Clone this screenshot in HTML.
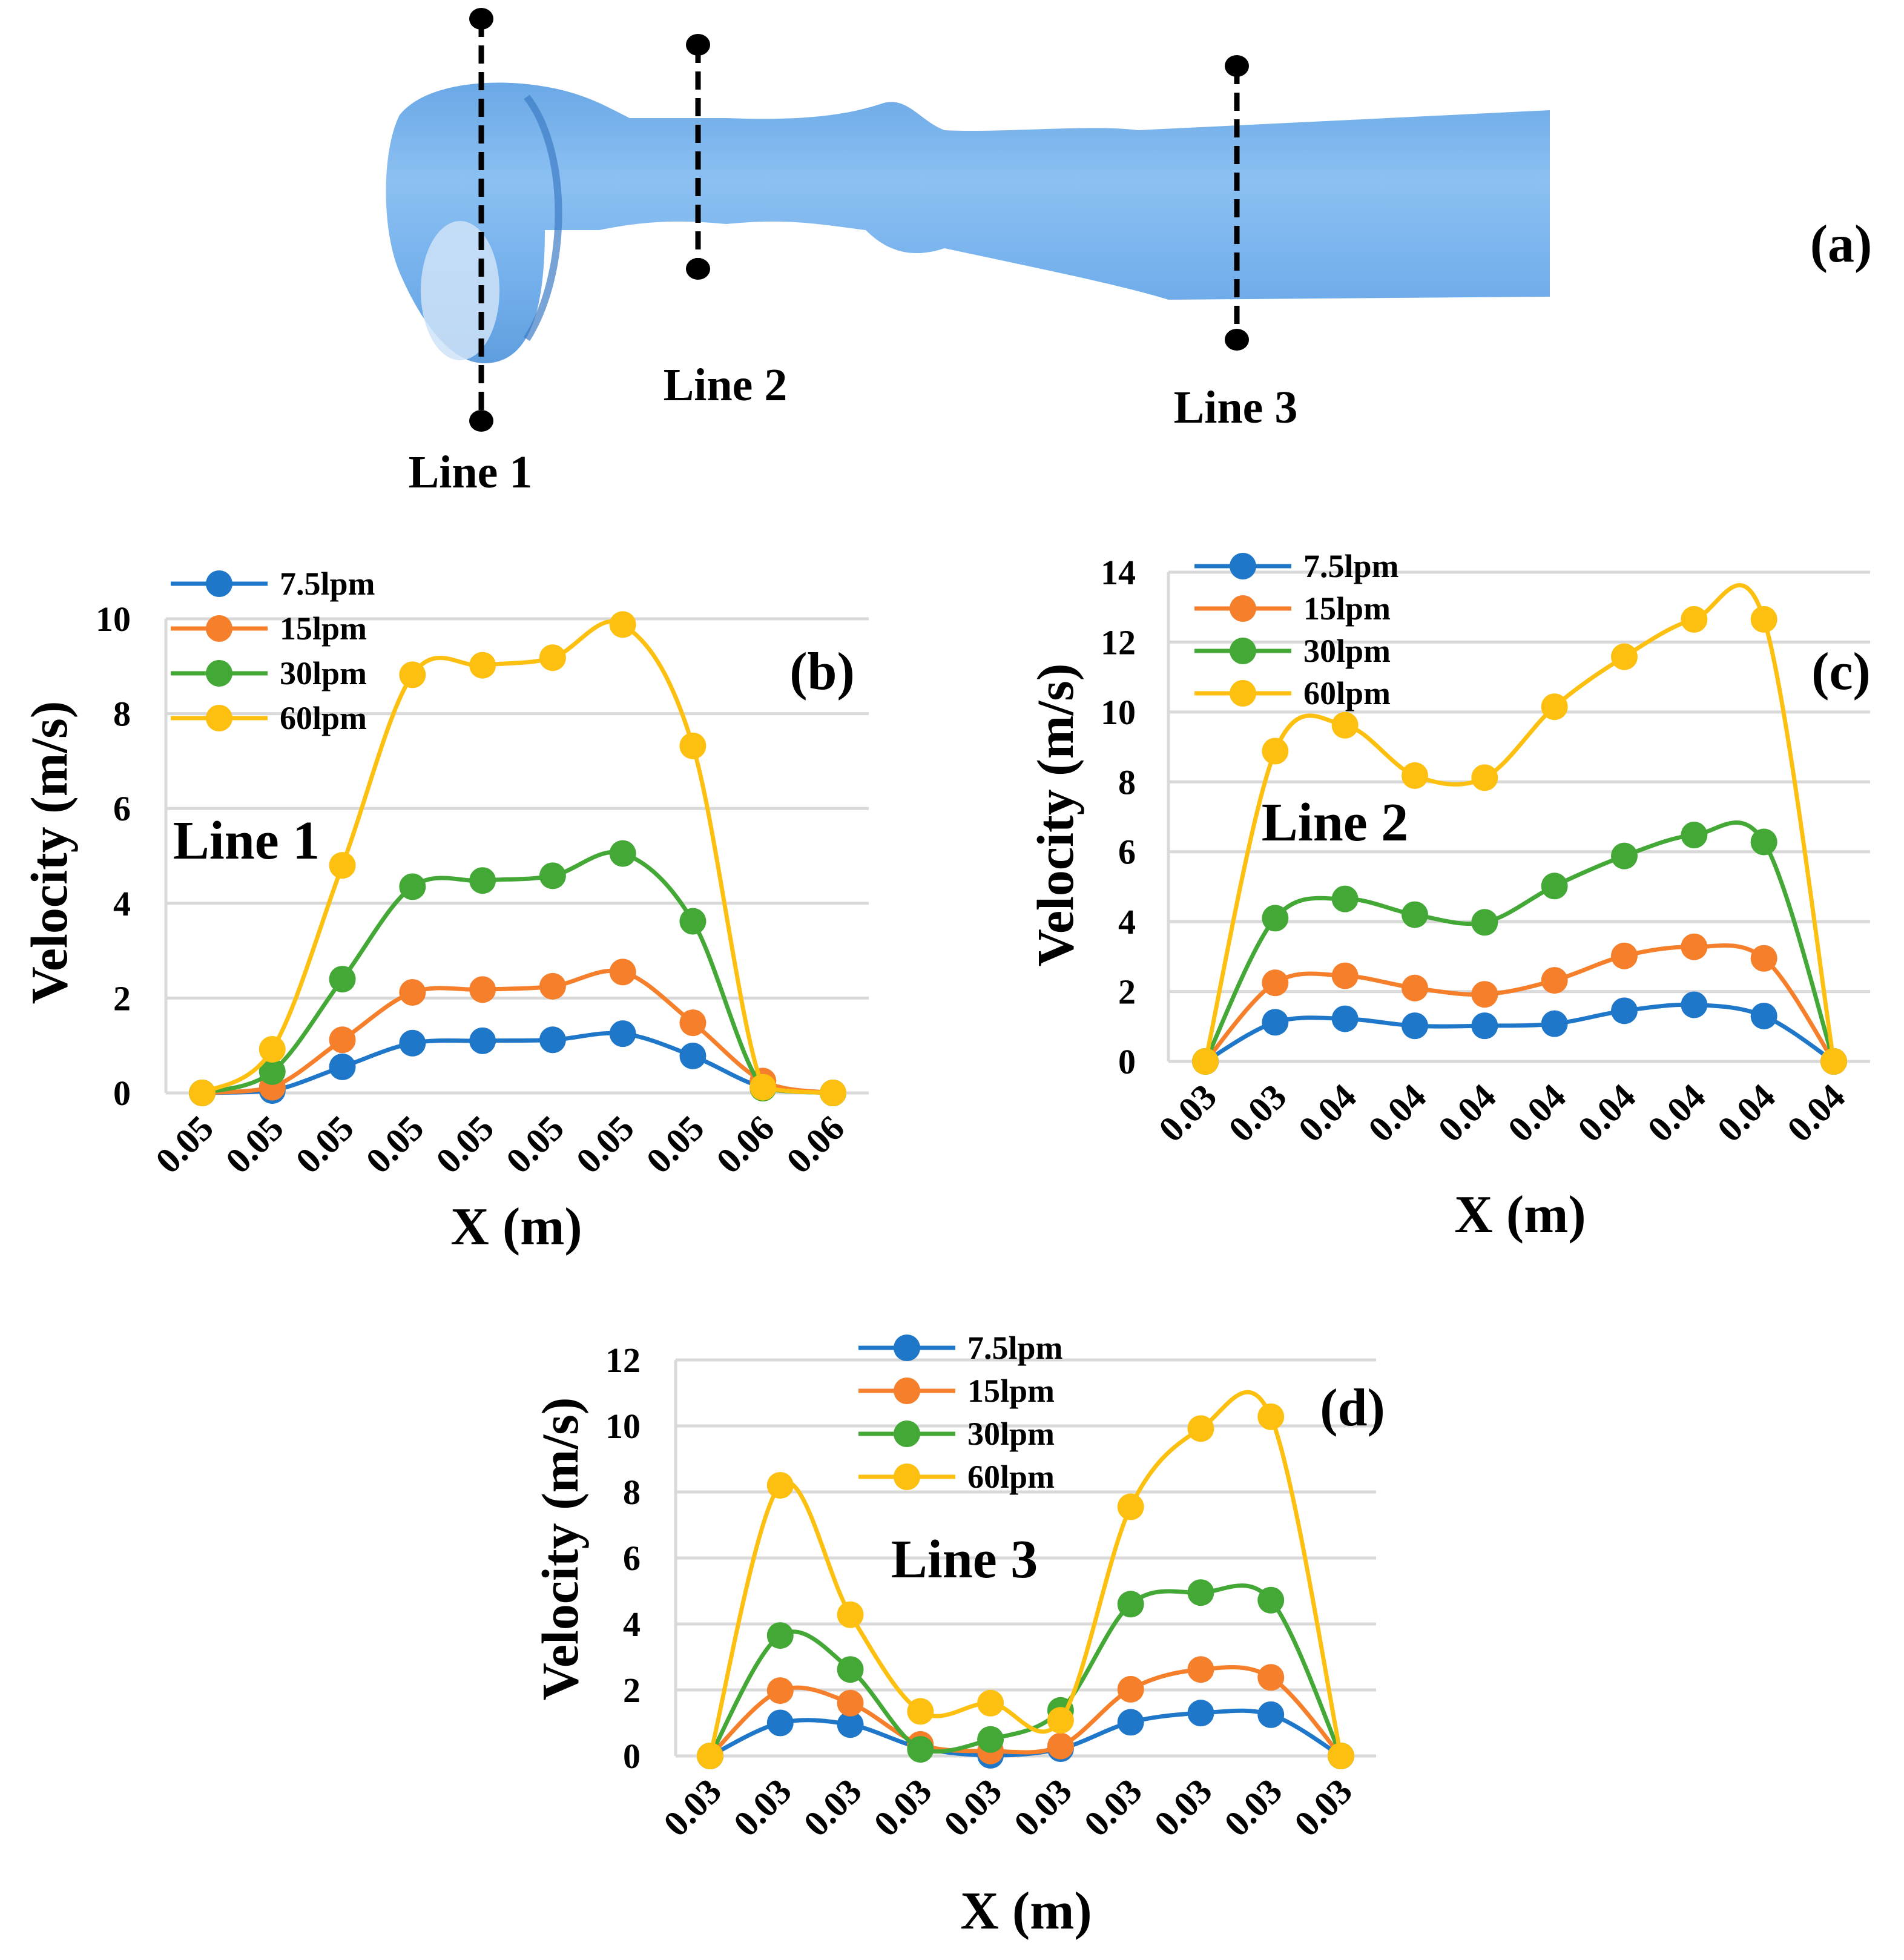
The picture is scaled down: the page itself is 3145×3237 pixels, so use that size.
<!DOCTYPE html>
<html><head><meta charset="utf-8"><style>
html,body{margin:0;padding:0;background:#fff}
svg{display:block}
text{font-family:"Liberation Serif",serif;font-weight:bold;fill:#000}
</style></head><body>
<svg id="root" width="3145" height="3237" viewBox="0 0 3145 3237" xmlns="http://www.w3.org/2000/svg">
<defs>
<linearGradient id="tube" x1="0" y1="0" x2="0" y2="1">
<stop offset="0" stop-color="#6aa8e6"/><stop offset="0.35" stop-color="#8cc0f2"/><stop offset="0.7" stop-color="#74b0ec"/><stop offset="1" stop-color="#5f9ede"/>
</linearGradient>
</defs>
<g>
<path fill="url(#tube)" d="M880 140 C960 150 1000 175 1040 195 L1200 195 C1330 200 1400 190 1460 170 C1500 160 1520 200 1560 215 C1650 220 1800 205 1880 215 L2560 182 L2560 490 L1930 495 C1850 470 1700 440 1560 410 C1500 430 1460 410 1430 380 C1350 370 1300 360 1200 370 C1100 360 1040 370 990 380 L900 380 C900 500 880 600 800 600 C740 600 690 520 660 450 C630 380 630 250 660 190 C700 140 800 130 880 140Z"/>
<ellipse cx="760" cy="480" rx="65" ry="115" fill="#cfe3f8" opacity="0.85"/>
<path d="M870 160 C940 250 940 450 870 560" stroke="#3d7cc4" stroke-width="12" fill="none" opacity="0.7"/>
<g><line x1="795" y1="31" x2="795" y2="695" stroke="#000" stroke-width="9" stroke-dasharray="30,14"/><ellipse cx="795" cy="31" rx="20" ry="18"/><ellipse cx="795" cy="695" rx="20" ry="18"/></g>
<g><line x1="1153" y1="74" x2="1153" y2="444" stroke="#000" stroke-width="9" stroke-dasharray="30,14"/><ellipse cx="1153" cy="74" rx="20" ry="18"/><ellipse cx="1153" cy="444" rx="20" ry="18"/></g>
<g><line x1="2043" y1="109" x2="2043" y2="561" stroke="#000" stroke-width="9" stroke-dasharray="30,14"/><ellipse cx="2043" cy="109" rx="20" ry="18"/><ellipse cx="2043" cy="561" rx="20" ry="18"/></g>
<text x="777" y="805" font-size="76" text-anchor="middle">Line 1</text>
<text x="1198" y="661" font-size="76" text-anchor="middle">Line 2</text>
<text x="2041" y="698" font-size="76" text-anchor="middle">Line 3</text>
<text x="3041" y="432" font-size="88" text-anchor="middle">(a)</text>
</g>
</svg>
<script>
const seriesNames = ["7.5lpm","15lpm","30lpm","60lpm"];
const seriesColors = ["#1f77c9","#f57f2a","#43a836","#fdc010"];
const bTicks = ["0.05","0.05","0.05","0.05","0.05","0.05","0.05","0.05","0.06","0.06"];
const cTicks = ["0.03","0.03","0.04","0.04","0.04","0.04","0.04","0.04","0.04","0.04"];
const dTicks = ["0.03","0.03","0.03","0.03","0.03","0.03","0.03","0.03","0.03","0.03"];
const b75 = [0,0.05,0.55,1.05,1.1,1.12,1.25,0.78,0.12,0];
const b15 = [0,0.12,1.12,2.12,2.18,2.25,2.55,1.48,0.25,0];
const b30 = [0,0.45,2.4,4.35,4.48,4.58,5.05,3.62,0.1,0];
const b60 = [0,0.92,4.8,8.82,9.02,9.18,9.88,7.32,0.12,0];
const c75 = [0,1.12,1.22,1.02,1.02,1.08,1.45,1.62,1.3,0];
const c15 = [0,2.25,2.45,2.1,1.92,2.32,3.02,3.28,2.95,0];
const c30 = [0,4.1,4.65,4.2,3.98,5.02,5.88,6.48,6.28,0];
const c60 = [0,8.88,9.62,8.18,8.12,10.15,11.58,12.65,12.65,0];
const d75 = [0,1.0,0.95,0.25,0.02,0.22,1.02,1.3,1.25,0];
const d15 = [0,1.98,1.6,0.35,0.15,0.3,2.02,2.62,2.38,0];
const d30 = [0,3.65,2.62,0.2,0.5,1.38,4.6,4.95,4.72,0];
const d60 = [0,8.2,4.28,1.35,1.6,1.08,7.55,9.92,10.28,0];

const NS="http://www.w3.org/2000/svg";
const root=document.getElementById('root');
function mk(tag,attrs,parent,txt){const e=document.createElementNS(NS,tag);for(const k in attrs)e.setAttribute(k,attrs[k]);if(txt!==undefined)e.textContent=txt;(parent||root).appendChild(e);return e;}

function chart(cfg){
  const g=mk('g',{});
  
  
  const y=v=>cfg.y0+(cfg.yTop-cfg.y0)*v/cfg.yMax;
  const x=i=>cfg.x0+(cfg.x1-cfg.x0)*i/(cfg.ticks.length-1);
  for(let v=0;v<=cfg.yMax;v+=2){
    const gl=mk('line',{x1:cfg.gl,x2:cfg.gr,y1:y(v),y2:y(v),stroke:'#d9d9d9','stroke-width':5},g);
    
    
    const t=mk('text',{x:cfg.tickR,y:y(v)+20,'font-size':58,'text-anchor':'end'},g,String(v));
    
    
  }
  const ax=mk('line',{x1:cfg.gl,x2:cfg.gl,y1:cfg.yTop,y2:cfg.y0,stroke:'#d9d9d9','stroke-width':5},g);
  
  
  cfg.ticks.forEach((s,i)=>{
    const tx=x(i)+22, ty=cfg.y0+62;
    const t=mk('text',{x:tx,y:ty,'font-size':60,'text-anchor':'end',transform:`rotate(-45 ${tx} ${ty})`},g,s);
    
    
  });
  cfg.series.forEach((arr,si)=>{
    const pts=arr.map((v,i)=>[x(i),y(v)]);
    let d=`M${pts[0][0]},${pts[0][1]}`;
    for(let i=0;i<pts.length-1;i++){
      const p0=pts[Math.max(0,i-1)],p1=pts[i],p2=pts[i+1],p3=pts[Math.min(pts.length-1,i+2)];
      const k=1/6;
      let c1y=p1[1]+(p2[1]-p0[1])*k, c2y=p2[1]-(p3[1]-p1[1])*k;
      c1y=Math.min(c1y,cfg.y0); c2y=Math.min(c2y,cfg.y0);
      d+=` C${p1[0]+(p2[0]-p0[0])*k},${c1y} ${p2[0]-(p3[0]-p1[0])*k},${c2y} ${p2[0]},${p2[1]}`;
    }
    const path=mk('path',{d:d,fill:'none',stroke:seriesColors[si],'stroke-width':7},g);
    
    
    pts.forEach(p=>{
      const c=mk('circle',{cx:p[0],cy:p[1],r:22,fill:seriesColors[si]},g);
      
      
    });
  });
  seriesNames.forEach((n,si)=>{
    const ly=cfg.legY+si*cfg.legDy;
    const le=mk('g',{},g);
    
    
    mk('line',{x1:cfg.legX,x2:cfg.legX+160,y1:ly,y2:ly,stroke:seriesColors[si],'stroke-width':7},le);
    mk('circle',{cx:cfg.legX+80,cy:ly,r:22,fill:seriesColors[si]},le);
    mk('text',{x:cfg.legX+180,y:ly+18,'font-size':54},le,n);
  });
  const pl=mk('text',{x:cfg.pX,y:cfg.pY,'font-size':88,'text-anchor':'middle'},g,cfg.panel);
  
  
  const ll=mk('text',{x:cfg.lX,y:cfg.lY,'font-size':90,'text-anchor':'middle'},g,cfg.line);
  
  
  const xt=mk('text',{x:cfg.xtX,y:cfg.xtY,'font-size':88,'text-anchor':'middle'},g,'X (m)');
  
  
  const yt=mk('text',{x:cfg.ytX,y:cfg.ytY,'font-size':86,'text-anchor':'middle',transform:`rotate(-90 ${cfg.ytX} ${cfg.ytY})`},g,'Velocity (m/s)');
  
  
}

chart({name:'chart-b-line1',ticks:bTicks,series:[b75,b15,b30,b60],y0:1805,yTop:1022,yMax:10,x0:334,x1:1376,gl:274,gr:1435,tickR:216,
 legX:282,legY:964,legDy:74,panel:'(b)',pX:1358,pY:1138,line:'Line 1',lX:407,lY:1418,xtX:853,xtY:2055,ytX:110,ytY:1408});
chart({name:'chart-c-line2',ticks:cTicks,series:[c75,c15,c30,c60],y0:1753,yTop:945,yMax:14,x0:1991,x1:3029,gl:1930,gr:3089,tickR:1876,
 legX:1973,legY:935,legDy:70,panel:'(c)',pX:3041,pY:1138,line:'Line 2',lX:2205,lY:1388,xtX:2511,xtY:2035,ytX:1772,ytY:1346});
chart({name:'chart-d-line3',ticks:dTicks,series:[d75,d15,d30,d60],y0:2900,yTop:2246,yMax:12,x0:1173,x1:2215,gl:1116,gr:2273,tickR:1058,
 legX:1418,legY:2226,legDy:71,panel:'(d)',pX:2234,pY:2354,line:'Line 3',lX:1593,lY:2605,xtX:1695,xtY:3185,ytX:954,ytY:2558});
</script>
</body></html>
